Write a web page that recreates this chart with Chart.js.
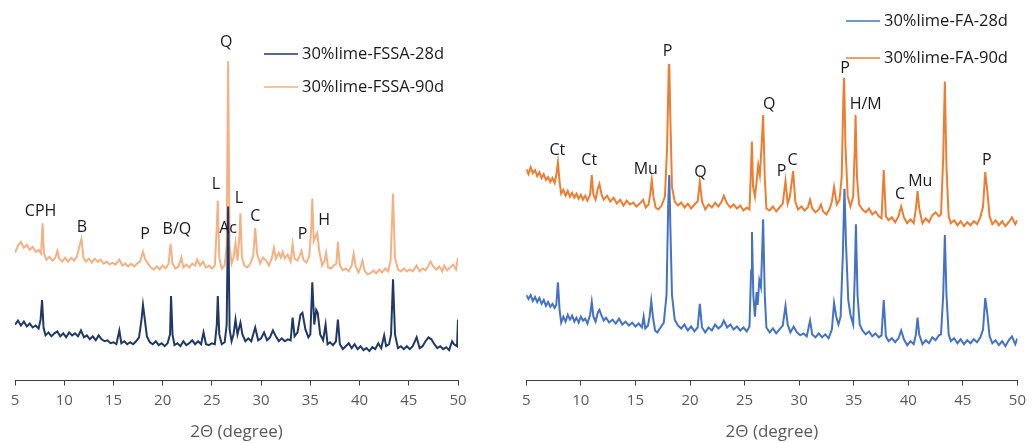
<!DOCTYPE html>
<html>
<head>
<meta charset="utf-8">
<script src="https://cdn.jsdelivr.net/npm/chart.js@4.4.1/dist/chart.umd.min.js"></script>
<style>
  body { margin: 0; background: #fff; }
  .panel { position: absolute; top: 0; width: 516px; height: 443px; }
</style>
</head>
<body>
<div class="panel" style="left:0"><canvas id="leftChart" width="516" height="443"></canvas></div>
<div class="panel" style="left:516px"><canvas id="rightChart" width="516" height="443"></canvas></div>
<script>
// 2-theta / intensity pairs (arbitrary intensity units)
const fssa28 = [
  [5.0,57],[5.3,61],[5.6,56],[5.9,60],[6.2,55],[6.5,58],[6.8,54],[7.1,56],[7.4,53],[7.6,62],[7.75,82],[7.9,54],
  [8.1,46],[8.4,49],[8.7,45],[9.0,48],[9.3,50],[9.6,45],[9.9,48],[10.2,44],[10.5,49],[10.8,46],[11.1,48],[11.4,45],
  [11.7,51],[12.0,44],[12.3,46],[12.6,42],[12.9,45],[13.2,41],[13.5,46],[13.8,42],[14.1,40],[14.4,41],[14.7,38],
  [15.0,39],[15.3,37],[15.6,51],[15.8,38],[16.1,40],[16.4,37],[16.7,39],[17.0,37],[17.3,40],[17.6,44],[17.85,62],
  [18.0,77],[18.15,65],[18.4,45],[18.7,39],[19.0,37],[19.3,40],[19.6,36],[19.9,38],[20.2,35],[20.5,38],[20.75,47],
  [20.85,86],[21.0,47],[21.2,36],[21.5,38],[21.8,35],[22.1,40],[22.4,36],[22.7,38],[23.0,41],[23.3,37],[23.6,40],
  [23.9,37],[24.15,49],[24.4,37],[24.7,36],[25.0,38],[25.3,37],[25.5,57],[25.6,86],[25.75,47],[26.0,37],[26.3,39],
  [26.5,57],[26.65,177],[26.8,52],[27.0,40],[27.2,47],[27.4,62],[27.6,47],[27.9,59],[28.1,47],[28.4,40],[28.7,43],
  [29.0,40],[29.4,54],[29.7,41],[30.0,43],[30.3,49],[30.6,41],[30.9,44],[31.2,51],[31.5,45],[31.8,40],[32.1,43],
  [32.4,40],[32.7,42],[33.0,41],[33.2,64],[33.4,45],[33.7,49],[34.0,67],[34.2,69],[34.5,52],[34.8,44],[35.0,47],
  [35.2,100],[35.4,57],[35.6,72],[35.75,69],[36.0,47],[36.3,41],[36.55,57],[36.75,37],[37.0,39],[37.3,36],[37.6,40],
  [37.8,62],[38.0,37],[38.3,32],[38.6,35],[38.9,38],[39.2,33],[39.5,37],[39.8,32],[40.1,35],[40.4,31],[40.7,33],
  [41.0,30],[41.3,34],[41.6,32],[41.9,38],[42.2,33],[42.5,46],[42.7,35],[43.0,37],[43.2,47],[43.4,103],[43.6,47],
  [43.9,33],[44.2,35],[44.5,32],[44.8,35],[45.1,32],[45.4,35],[45.8,44],[46.1,33],[46.4,35],[46.7,40],[47.0,44],
  [47.3,42],[47.6,37],[47.9,33],[48.2,35],[48.5,32],[48.8,34],[49.1,31],[49.4,40],[49.6,37],[49.9,35],[50.0,62]
];
const fssa90 = [
  [5.0,130],[5.3,137],[5.6,141],[5.9,135],[6.2,138],[6.5,133],[6.8,136],[7.1,131],[7.4,133],[7.65,129],[7.8,160],
  [7.95,129],[8.2,123],[8.5,126],[8.8,122],[9.1,125],[9.3,132],[9.5,124],[9.8,121],[10.1,125],[10.4,121],[10.7,125],
  [11.0,122],[11.3,126],[11.6,139],[11.75,144],[11.95,125],[12.2,121],[12.5,124],[12.8,120],[13.1,124],[13.4,121],
  [13.7,123],[14.0,119],[14.3,121],[14.6,118],[14.9,120],[15.2,118],[15.6,123],[15.9,117],[16.2,119],[16.5,116],
  [16.8,119],[17.1,116],[17.4,119],[17.7,121],[18.0,131],[18.2,124],[18.5,119],[18.8,115],[19.1,113],[19.4,116],
  [19.7,113],[20.0,117],[20.3,114],[20.6,119],[20.8,139],[21.0,119],[21.3,114],[21.6,116],[21.9,125],[22.1,115],
  [22.4,118],[22.7,115],[23.0,119],[23.3,117],[23.5,123],[23.8,117],[24.1,121],[24.4,115],[24.7,117],[25.0,114],
  [25.3,117],[25.5,157],[25.6,183],[25.75,125],[26.0,114],[26.3,117],[26.5,137],[26.65,325],[26.8,137],[27.0,119],
  [27.2,125],[27.4,140],[27.6,122],[27.8,147],[27.9,170],[28.05,125],[28.3,117],[28.6,115],[28.9,119],[29.2,127],
  [29.4,155],[29.6,129],[29.9,119],[30.2,125],[30.5,122],[30.8,117],[31.1,125],[31.3,135],[31.5,124],[31.8,130],
  [32.0,125],[32.2,131],[32.4,124],[32.7,128],[33.0,121],[33.2,139],[33.4,124],[33.7,122],[34.0,129],[34.1,132],
  [34.3,123],[34.6,120],[34.9,127],[35.1,157],[35.2,185],[35.35,142],[35.55,147],[35.7,150],[35.9,132],[36.2,117],
  [36.45,122],[36.6,130],[36.8,115],[37.1,114],[37.4,117],[37.65,119],[37.8,141],[38.0,117],[38.3,112],[38.6,114],
  [38.9,111],[39.2,117],[39.4,129],[39.6,116],[39.9,110],[40.1,115],[40.3,122],[40.5,112],[40.8,108],[41.1,109],
  [41.4,112],[41.7,109],[42.0,113],[42.3,110],[42.6,114],[42.9,111],[43.15,122],[43.4,190],[43.6,125],[43.9,113],
  [44.2,111],[44.5,114],[44.8,111],[45.1,113],[45.4,111],[45.8,117],[46.1,111],[46.4,114],[46.7,112],[47.0,117],
  [47.2,121],[47.5,116],[47.8,113],[48.1,116],[48.4,111],[48.6,117],[48.9,112],[49.2,115],[49.5,118],[49.8,113],[50.0,125]
];
const fa28 = [
  [5.0,87],[5.2,83],[5.4,87],[5.6,81],[5.8,85],[6.0,80],[6.2,84],[6.4,78],[6.6,82],[6.8,76],[7.0,80],[7.2,75],
  [7.4,78],[7.6,74],[7.75,77],[7.9,100],[8.05,72],[8.2,59],[8.4,65],[8.6,60],[8.8,67],[9.0,62],[9.2,66],[9.4,60],
  [9.6,64],[9.8,59],[10.0,65],[10.2,61],[10.4,63],[10.6,58],[10.85,67],[11.0,80],[11.15,65],[11.35,60],[11.55,69],
  [11.7,72],[11.9,66],[12.1,61],[12.3,64],[12.6,59],[12.9,62],[13.2,58],[13.5,63],[13.8,57],[14.1,60],[14.4,56],
  [14.7,59],[15.0,55],[15.3,58],[15.6,54],[15.75,65],[15.9,53],[16.15,56],[16.3,65],[16.45,81],[16.6,65],[16.8,51],
  [17.0,49],[17.3,54],[17.6,59],[17.85,87],[18.0,177],[18.1,209],[18.2,157],[18.35,87],[18.6,62],[18.9,56],[19.2,53],
  [19.5,57],[19.8,51],[20.1,55],[20.4,50],[20.7,54],[20.9,78],[21.1,54],[21.4,49],[21.7,54],[22.0,51],[22.3,57],
  [22.6,53],[22.9,56],[23.1,61],[23.4,54],[23.7,57],[24.0,52],[24.3,55],[24.6,51],[24.9,54],[25.2,50],[25.45,55],
  [25.6,112],[25.68,151],[25.8,87],[25.95,65],[26.1,90],[26.2,77],[26.35,102],[26.5,95],[26.6,127],[26.7,164],
  [26.85,87],[27.0,54],[27.3,49],[27.6,53],[27.9,48],[28.2,52],[28.5,56],[28.75,76],[28.95,57],[29.2,49],[29.5,55],
  [29.8,49],[30.1,46],[30.4,48],[30.7,45],[31.0,61],[31.2,47],[31.5,44],[31.8,48],[32.1,44],[32.4,47],[32.7,43],
  [33.0,52],[33.2,79],[33.4,65],[33.6,57],[33.8,65],[34.0,127],[34.15,195],[34.3,137],[34.5,82],[34.7,67],[34.95,57],
  [35.1,107],[35.2,159],[35.35,87],[35.55,57],[35.8,51],[36.1,47],[36.4,50],[36.7,45],[37.0,48],[37.3,44],[37.55,46],
  [37.75,82],[37.95,45],[38.2,40],[38.5,43],[38.8,39],[39.1,43],[39.35,51],[39.6,42],[39.9,36],[40.2,40],[40.5,37],
  [40.7,47],[40.85,64],[41.0,47],[41.3,37],[41.6,41],[41.9,38],[42.2,44],[42.5,41],[42.8,46],[43.0,47],[43.2,87],
  [43.35,148],[43.5,87],[43.7,47],[43.9,40],[44.2,43],[44.5,38],[44.8,42],[45.1,37],[45.4,41],[45.7,38],[46.0,42],
  [46.3,39],[46.6,44],[46.85,52],[47.05,84],[47.25,67],[47.45,45],[47.7,38],[48.0,41],[48.3,36],[48.6,40],[48.9,35],
  [49.2,41],[49.5,45],[49.8,37],[50.0,43]
];
const fa90 = [
  [5.0,215],[5.2,210],[5.4,217],[5.6,211],[5.8,214],[6.0,208],[6.2,212],[6.4,206],[6.6,210],[6.8,204],[7.0,207],
  [7.2,202],[7.4,206],[7.6,201],[7.75,209],[7.9,222],[8.05,202],[8.2,190],[8.4,194],[8.6,188],[8.8,193],[9.0,187],
  [9.2,191],[9.4,186],[9.6,190],[9.8,185],[10.0,189],[10.2,184],[10.4,188],[10.6,183],[10.85,189],[11.0,209],
  [11.15,189],[11.35,184],[11.55,195],[11.7,200],[11.9,189],[12.1,184],[12.4,188],[12.7,182],[13.0,186],[13.3,180],
  [13.6,184],[13.9,178],[14.2,183],[14.5,179],[14.8,181],[15.1,177],[15.4,180],[15.7,184],[15.95,176],[16.2,179],
  [16.35,189],[16.5,204],[16.65,187],[16.85,176],[17.1,174],[17.4,178],[17.7,187],[17.9,237],[18.05,317],[18.1,322],
  [18.2,267],[18.35,197],[18.6,182],[18.9,178],[19.2,181],[19.5,176],[19.8,180],[20.1,175],[20.4,179],[20.7,182],
  [20.9,202],[21.1,182],[21.4,174],[21.7,179],[22.0,176],[22.3,181],[22.6,177],[22.9,182],[23.1,188],[23.4,180],
  [23.7,176],[24.0,179],[24.3,175],[24.6,178],[24.9,173],[25.2,176],[25.45,174],[25.58,212],[25.67,243],[25.78,197],
  [25.95,187],[26.1,202],[26.25,219],[26.4,209],[26.55,237],[26.7,270],[26.85,207],[27.0,175],[27.3,173],[27.6,177],
  [27.9,172],[28.2,176],[28.5,180],[28.75,203],[28.95,180],[29.15,187],[29.45,213],[29.65,182],[29.9,174],[30.2,177],
  [30.5,173],[30.8,176],[31.0,184],[31.2,175],[31.5,171],[31.8,174],[32.0,179],[32.2,172],[32.5,169],[32.8,175],
  [33.0,182],[33.2,197],[33.45,179],[33.7,184],[33.9,207],[34.05,287],[34.12,308],[34.25,237],[34.45,187],[34.7,177],
  [34.95,187],[35.1,237],[35.17,270],[35.3,207],[35.5,179],[35.8,174],[36.1,171],[36.4,175],[36.7,169],[37.0,172],
  [37.3,167],[37.55,165],[37.75,214],[37.95,167],[38.2,163],[38.5,166],[38.8,161],[39.1,167],[39.35,177],[39.6,166],
  [39.9,160],[40.2,164],[40.5,160],[40.7,175],[40.85,193],[41.0,175],[41.3,160],[41.6,165],[41.9,161],[42.2,168],
  [42.5,171],[42.8,167],[43.0,169],[43.2,227],[43.35,304],[43.5,217],[43.7,167],[43.9,160],[44.2,163],[44.5,158],
  [44.8,162],[45.1,157],[45.4,161],[45.7,158],[46.0,162],[46.3,159],[46.6,166],[46.85,177],[47.05,212],[47.25,192],
  [47.45,167],[47.7,159],[48.0,163],[48.3,158],[48.6,162],[48.9,157],[49.2,161],[49.5,166],[49.8,159],[50.0,163]
];

// phase labels: [text, 2-theta, intensity]
const fssaLabels = [
  ['CPH',7.6,172],['B',11.8,156],['P',18.2,149],['B/Q',21.45,154],['L',25.4,199],['Q',26.45,344],
  ['Ac',26.65,155],['L',27.75,185],['C',29.4,167],['P',34.2,149],['H',36.4,163]
];
const faLabels = [
  ['Ct',7.85,234],['Ct',10.77,224],['Mu',15.95,215],['P',17.95,335],['Q',20.97,212],['Q',27.25,281],
  ['P',28.4,213],['C',29.4,224],['P',34.2,317],['H/M',36.1,281],['C',39.25,189],['Mu',41.1,203],['P',47.2,224]
];

const xTicks = [5, 10, 15, 20, 25, 30, 35, 40, 45, 50];
const FONT = '"Open Sans", sans-serif';

const peakLabels = {
  id: 'peakLabels',
  afterDatasetsDraw(chart, args, opts) {
    const { ctx, scales: { x, y } } = chart;
    ctx.save();
    ctx.font = '16px ' + FONT;
    ctx.fillStyle = '#1a1a1a';
    ctx.textAlign = 'center';
    ctx.textBaseline = 'middle';
    opts.items.forEach(([t, px, py]) => ctx.fillText(t, x.getPixelForValue(px), y.getPixelForValue(py)));
    ctx.restore();
  }
};

const sideLegend = {
  id: 'sideLegend',
  afterDraw(chart, args, opts) {
    const { ctx } = chart;
    ctx.save();
    ctx.font = '16.5px ' + FONT;
    ctx.textBaseline = 'middle';
    chart.data.datasets.forEach((ds, i) => {
      const yy = opts.top + i * opts.gap;
      ctx.strokeStyle = ds.borderColor;
      ctx.lineWidth = 1.6;
      ctx.beginPath();
      ctx.moveTo(opts.left, yy);
      ctx.lineTo(opts.left + 34, yy);
      ctx.stroke();
      ctx.fillStyle = '#1a1a1a';
      ctx.fillText(ds.label, opts.left + 38, yy);
    });
    ctx.restore();
  }
};

function makeChart(id, series, labels, colors, names, pad, legendPos) {
  new Chart(document.getElementById(id), {
    type: 'line',
    data: {
      datasets: series.map((s, i) => ({
        label: names[i],
        data: s.map(p => ({ x: p[0], y: p[1] })),
        borderColor: colors[i],
        borderWidth: 2,
        pointRadius: 0,
        tension: 0,
        fill: false
      }))
    },
    options: {
      responsive: false,
      animation: false,
      layout: { padding: pad },
      plugins: {
        legend: { display: false },
        tooltip: { enabled: false },
        peakLabels: { items: labels },
        sideLegend: legendPos
      },
      scales: {
        x: {
          type: 'linear',
          min: 5,
          max: 50,
          afterBuildTicks: axis => { axis.ticks = xTicks.map(v => ({ value: v })); },
          ticks: { color: '#595959', font: { family: FONT, size: 15 }, padding: 6, maxRotation: 0 },
          grid: { drawOnChartArea: false, drawTicks: true, tickLength: 5, color: '#404040' },
          border: { display: true, color: '#404040', width: 1 },
          title: { display: true, text: '2Θ (degree)', color: '#595959', font: { family: FONT, size: 17 }, padding: { top: 6, bottom: 0 } }
        },
        y: { display: false, min: 0, max: 387 }
      }
    },
    plugins: [peakLabels, sideLegend]
  });
}

makeChart('leftChart', [fssa28, fssa90], fssaLabels, ['#203864', '#F4B183'],
  ['30%lime-FSSA-28d', '30%lime-FSSA-90d'], { left: 15, right: 58, top: 0, bottom: 1 }, { left: 264, top: 54, gap: 33 });
makeChart('rightChart', [fa28, fa90], faLabels, ['#4472C4', '#ED7D31'],
  ['30%lime-FA-28d', '30%lime-FA-90d'], { left: 10, right: 12, top: 0, bottom: 1 }, { left: 330, top: 21, gap: 37 });
</script>
</body>
</html>
